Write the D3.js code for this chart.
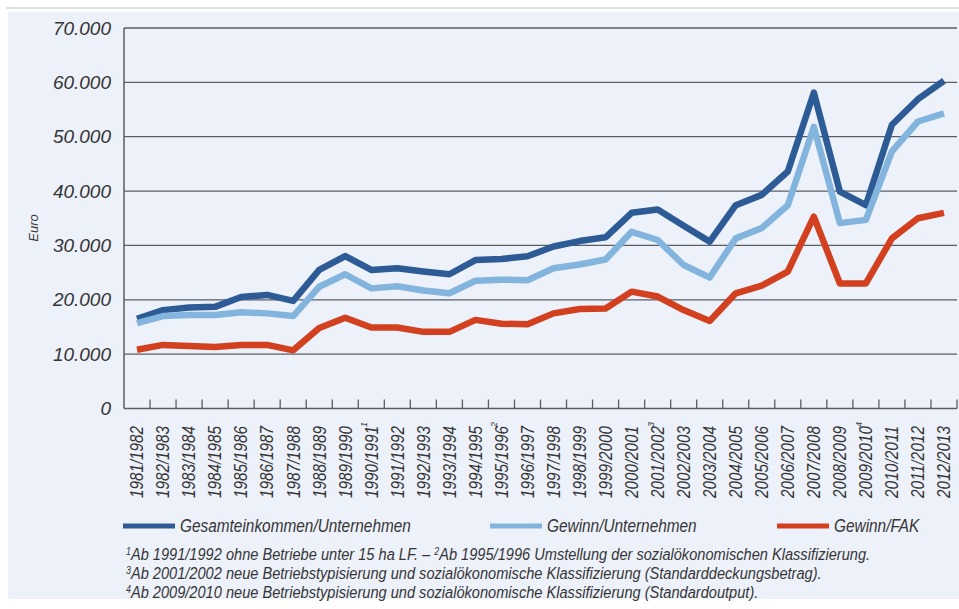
<!DOCTYPE html>
<html>
<head>
<meta charset="utf-8">
<script src="https://cdn.jsdelivr.net/npm/d3@7"></script>
<style>
  html, body { margin: 0; padding: 0; background: #ffffff; }
  svg { display: block; }
</style>
</head>
<body>
<svg id="chart" width="959" height="609"></svg>
<script>
// Wirtschaftsjahre
const categories = [
  "1981/1982", "1982/1983", "1983/1984", "1984/1985", "1985/1986", "1986/1987",
  "1987/1988", "1988/1989", "1989/1990", "1990/1991", "1991/1992", "1992/1993",
  "1993/1994", "1994/1995", "1995/1996", "1996/1997", "1997/1998", "1998/1999",
  "1999/2000", "2000/2001", "2001/2002", "2002/2003", "2003/2004", "2004/2005",
  "2005/2006", "2006/2007", "2007/2008", "2008/2009", "2009/2010", "2010/2011",
  "2011/2012", "2012/2013"
];

// Fußnotenzeichen an einzelnen Jahren
const categoryNotes = { "1990/1991": "1", "1995/1996": "2", "2001/2002": "3", "2009/2010": "4" };

// Euro je Unternehmen bzw. je FAK
const gesamteinkommen = [
  16500, 18100, 18600, 18700, 20500, 20900, 19800, 25500, 28050, 25500, 25800, 25200,
  24700, 27300, 27500, 28000, 29800, 30800, 31500, 36000, 36600, 33600, 30700, 37400,
  39300, 43600, 58100, 39900, 37400, 52200, 56900, 60300
];
const gewinnUnternehmen = [
  15700, 17000, 17200, 17200, 17700, 17500, 17000, 22400, 24700, 22100, 22500, 21700,
  21200, 23500, 23700, 23600, 25800, 26500, 27400, 32500, 31000, 26400, 24100, 31300,
  33200, 37400, 51800, 34100, 34700, 47300, 52800, 54300
];
const gewinnFAK = [
  10800, 11700, 11500, 11300, 11700, 11700, 10700, 14800, 16700, 14900, 14900, 14100,
  14100, 16300, 15600, 15500, 17500, 18300, 18400, 21500, 20600, 18100, 16100, 21200,
  22600, 25200, 35300, 23000, 23000, 31300, 35000, 36000
];

const yTicks = [0, 10000, 20000, 30000, 40000, 50000, 60000, 70000];
const seriesNames = ["Gesamteinkommen/Unternehmen", "Gewinn/Unternehmen", "Gewinn/FAK"];
const seriesColors = ["#2d5b95", "#82b4de", "#d2401f"];
const footnotes = [
  [["1", "Ab 1991/1992 ohne Betriebe unter 15 ha LF. – "], ["2", "Ab 1995/1996 Umstellung der sozialökonomischen Klassifizierung."]],
  [["3", "Ab 2001/2002 neue Betriebstypisierung und sozialökonomische Klassifizierung (Standarddeckungsbetrag)."]],
  [["4", "Ab 2009/2010 neue Betriebstypisierung und sozialökonomische Klassifizierung (Standardoutput)."]]
];

const series = [gesamteinkommen, gewinnUnternehmen, gewinnFAK];

const svg = d3.select("#chart");
const W = 959, H = 609;
const plot = { left: 124, right: 957, top: 28, bottom: 408.5 };

const deLocale = d3.formatLocale({ decimal: ",", thousands: ".", grouping: [3], currency: ["", " €"] });
const fmt = deLocale.format(",");

const textColor = "#353535";
const font = "'Liberation Sans', Arial, Helvetica, sans-serif";

// Hintergrund
svg.append("rect").attr("x", 0).attr("y", 0).attr("width", W).attr("height", H).attr("fill", "#ffffff");
svg.append("line").attr("x1", 6).attr("x2", W).attr("y1", 8).attr("y2", 8)
  .attr("stroke", "#c4c4c4").attr("stroke-width", 1.2);
svg.append("rect").attr("x", 8).attr("y", 12).attr("width", W - 8).attr("height", 587)
  .attr("fill", "#edf1fa");

const x = d3.scaleBand().domain(categories).range([plot.left, plot.right]).padding(0);
const y = d3.scaleLinear().domain([0, 70000]).range([plot.bottom, plot.top]);

// Gitterlinien
svg.append("g").selectAll("line").data(yTicks.filter(d => d > 0)).join("line")
  .attr("x1", plot.left).attr("x2", plot.right)
  .attr("y1", d => y(d)).attr("y2", d => y(d))
  .attr("stroke", "#5a5d63").attr("stroke-width", 1.3);

// Y-Achse
const yAxis = svg.append("g").attr("transform", `translate(${plot.left - 13},0)`)
  .call(d3.axisLeft(y).tickValues(yTicks).tickSize(0).tickFormat(d => d === 0 ? "0" : fmt(d)));
yAxis.select(".domain").remove();
yAxis.selectAll("text")
  .attr("font-family", font).attr("font-size", 19).attr("font-style", "italic")
  .attr("fill", textColor).attr("x", 0);

svg.append("line").attr("x1", plot.left).attr("x2", plot.left)
  .attr("y1", plot.top).attr("y2", plot.bottom)
  .attr("stroke", "#5a5d63").attr("stroke-width", 1.5);

svg.append("text")
  .attr("transform", `translate(38,228) rotate(-90)`)
  .attr("text-anchor", "middle")
  .attr("font-family", font).attr("font-size", 13).attr("font-style", "italic")
  .attr("fill", textColor).text("Euro");

// X-Achse mit Teilstrichen an den Klassengrenzen
svg.append("line").attr("x1", plot.left).attr("x2", plot.right)
  .attr("y1", plot.bottom).attr("y2", plot.bottom)
  .attr("stroke", "#5a5d63").attr("stroke-width", 1.5);
svg.append("g").selectAll("line").data(categories).join("line")
  .attr("x1", d => x(d) + x.bandwidth()).attr("x2", d => x(d) + x.bandwidth())
  .attr("y1", plot.bottom).attr("y2", plot.bottom - 9)
  .attr("stroke", "#5a5d63").attr("stroke-width", 1.3);

// Jahresbeschriftungen, schmal gesetzt (senkrecht, Ende oben an der Achse)
const labelTop = 426, labelLen = 72;
const xg = svg.append("g").selectAll("g").data(categories).join("g")
  .attr("transform", d => `translate(${x(d) + x.bandwidth() / 2},${labelTop + labelLen}) rotate(-90)`);
xg.append("text")
  .attr("x", 0)
  .attr("dy", "0.36em")
  .attr("textLength", labelLen).attr("lengthAdjust", "spacingAndGlyphs")
  .attr("font-family", font).attr("font-size", 17.5).attr("font-style", "italic")
  .attr("fill", textColor)
  .text(d => d);
xg.filter(d => categoryNotes[d]).append("text")
  .attr("x", labelLen - 1).attr("dy", "-0.45em")
  .attr("font-family", font).attr("font-size", 9).attr("font-style", "italic")
  .attr("fill", textColor)
  .text(d => categoryNotes[d]);

// Linien
const line = d3.line()
  .x((d, i) => x(categories[i]) + x.bandwidth() / 2)
  .y(d => y(d));

svg.append("g").selectAll("path").data(series).join("path")
  .attr("d", d => line(d))
  .attr("fill", "none")
  .attr("stroke", (d, i) => seriesColors[i])
  .attr("stroke-width", 6.5)
  .attr("stroke-linejoin", "round")
  .attr("stroke-linecap", "butt");

// Legende
const legendPos = [123, 490, 777];
const lg = svg.append("g").selectAll("g").data(seriesNames).join("g")
  .attr("transform", (d, i) => `translate(${legendPos[i]},526)`);
lg.append("line").attr("x1", 0).attr("x2", 52).attr("y1", 0).attr("y2", 0)
  .attr("stroke", (d, i) => seriesColors[i]).attr("stroke-width", 5);
lg.append("text").attr("transform", `translate(57,5.5) scale(0.88,1)`)
  .attr("font-family", font).attr("font-size", 17.5).attr("font-style", "italic")
  .attr("fill", textColor).text(d => d);

// Fußnoten
const fn = svg.append("g").selectAll("text").data(footnotes).join("text")
  .attr("transform", (d, i) => `translate(126,${560 + i * 19}) scale(0.885,1)`)
  .attr("font-family", font).attr("font-size", 16.5).attr("font-style", "italic")
  .attr("fill", textColor);
fn.each(function(parts) {
  const t = d3.select(this);
  parts.forEach(([sup, txt]) => {
    t.append("tspan").attr("font-size", 10).attr("baseline-shift", "super").text(sup);
    t.append("tspan").text(txt);
  });
});
</script>
</body>
</html>
